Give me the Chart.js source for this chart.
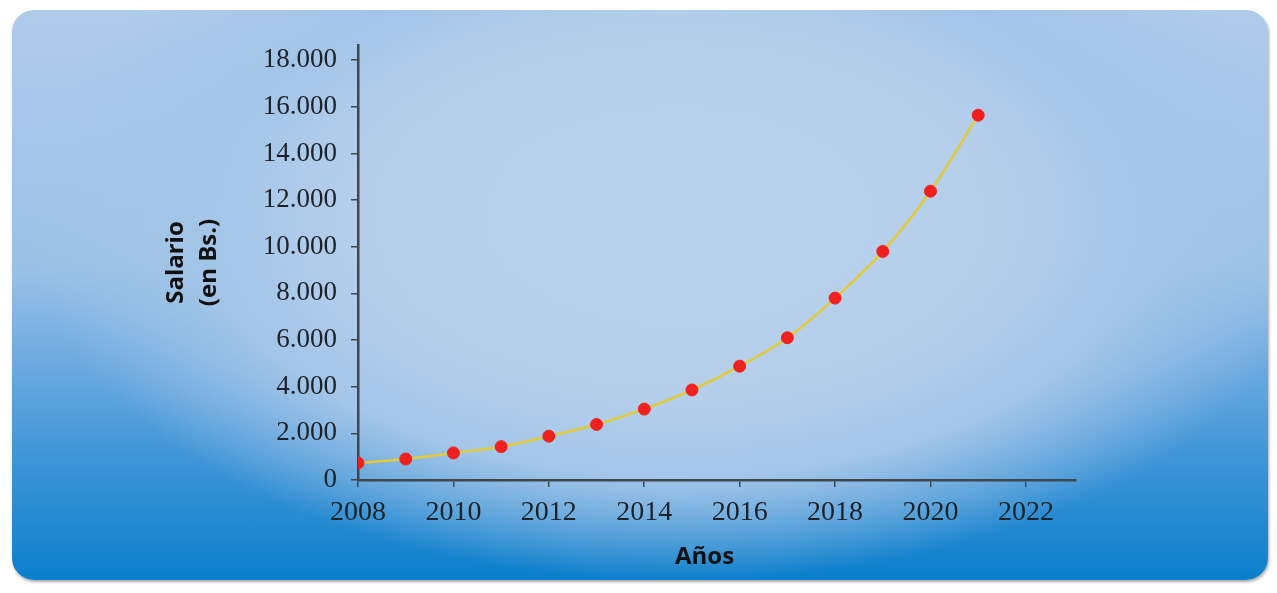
<!DOCTYPE html>
<html>
<head>
<meta charset="utf-8">
<script src="https://cdn.jsdelivr.net/npm/chart.js@4.4.1/dist/chart.umd.min.js"></script>
<style>
  html, body { margin: 0; padding: 0; background: #ffffff; }
  #wrap { position: relative; width: 1277px; height: 593px; overflow: hidden; }
  #panel {
    position: absolute; left: 12px; top: 10px; width: 1256px; height: 570px;
    border-radius: 22px;
    background:
      radial-gradient(ellipse 52% 64% at 53% 36%, #bad1ec 0%, #b5cfeb 50%, #a3c5e8 72%, rgba(90,160,220,0) 100%),
      linear-gradient(to bottom, #b0cbea 0%, #9cc1e7 45%, #4b9ad9 74%, #0b7fcb 100%);
    box-shadow: 1px 2px 3px rgba(0,0,0,0.35);
  }
  canvas { position: absolute; left: 0; top: 0; }
</style>
</head>
<body>
<div id="wrap">
  <div id="panel"></div>
  <canvas id="salaryChart" width="1277" height="593"></canvas>
</div>
<script>
// values
const years = [2008, 2009, 2010, 2011, 2012, 2013, 2014, 2015, 2016, 2017, 2018, 2019, 2020, 2021];
const salary = [730, 900, 1160, 1430, 1880, 2380, 3040, 3860, 4880, 6100, 7800, 9800, 12380, 15640];
const xTicks = [2008, 2010, 2012, 2014, 2016, 2018, 2020, 2022];
const yTicks = [0, 2000, 4000, 6000, 8000, 10000, 12000, 14000, 16000, 18000];

const axisColor = '#3e4650';
const textColor = '#1d2229';

function thousands(v) {
    return String(v).replace(/\B(?=(\d{3})+(?!\d))/g, '.');
}

const ctx = document.getElementById('salaryChart').getContext('2d');
new Chart(ctx, {
    type: 'line',
    data: {
        datasets: [{
            label: 'Salario',
            data: years.map((y, i) => ({ x: y, y: salary[i] })),
            borderColor: '#e2cb3a',
            borderWidth: 2.5,
            tension: 0.4,
            cubicInterpolationMode: 'monotone',
            pointRadius: 6,
            pointBackgroundColor: '#f0201e',
            pointBorderColor: '#f0201e',
            pointBorderWidth: 1,
            fill: false
        }]
    },
    options: {
        responsive: false,
        animation: false,
        layout: { padding: { left: 150, right: 201, top: 45, bottom: 15 } },
        plugins: {
            legend: { display: false },
            tooltip: { enabled: false }
        },
        scales: {
            x: {
                type: 'linear',
                min: 2008,
                max: 2023.05,
                afterFit: s => { s.height = 98; },
                afterBuildTicks: s => { s.ticks = xTicks.map(v => ({ value: v })); },
                grid: { drawOnChartArea: false, drawTicks: true, tickLength: 7, color: axisColor, lineWidth: 1.5 },
                border: { display: true, color: axisColor, width: 2.5 },
                ticks: {
                    color: textColor,
                    padding: 9,
                    maxRotation: 0,
                    font: { family: 'Liberation Serif', size: 28 },
                    callback: v => String(v)
                },
                title: {
                    display: true,
                    text: 'Años    ',
                    color: '#111111',
                    padding: { top: 4, bottom: 6 },
                    font: { family: 'Open Sans', size: 24, weight: 'bold' }
                }
            },
            y: {
                type: 'linear',
                min: 0,
                max: 18650,
                afterFit: s => { s.width = 208; },
                afterBuildTicks: s => { s.ticks = yTicks.map(v => ({ value: v })); },
                grid: { drawOnChartArea: false, drawTicks: true, tickLength: 7, color: axisColor, lineWidth: 1.5 },
                border: { display: true, color: axisColor, width: 2.5 },
                ticks: {
                    color: textColor,
                    padding: 14,
                    font: { family: 'Liberation Serif', size: 27 },
                    callback: v => thousands(v)
                },
                title: {
                    display: true,
                    text: ['Salario', '(en Bs.)'],
                    color: '#111111',
                    padding: { top: 9, bottom: 4 },
                    font: { family: 'Open Sans', size: 24, weight: 'bold', lineHeight: 1.4 }
                }
            }
        }
    }
});
</script>
</body>
</html>
